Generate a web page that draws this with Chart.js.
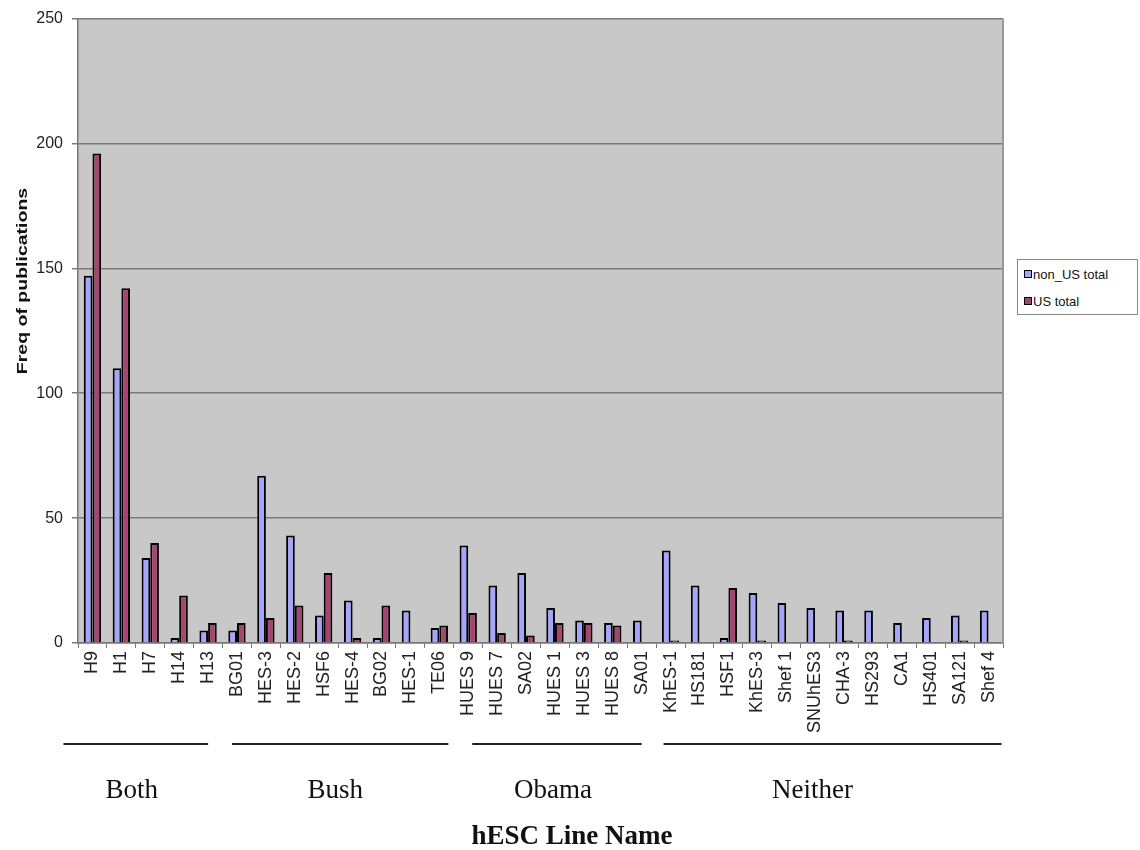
<!DOCTYPE html>
<html lang="en">
<head>
    <meta charset="UTF-8">
    <title>hESC line publications</title>
    <script src="https://cdn.jsdelivr.net/npm/chart.js"></script>
    <style>
        body { margin: 0; background: #fff; }
        #wrap { position: relative; width: 1140px; height: 850px; }
        #legend {
            position: absolute; left: 1017px; top: 259px; width: 121px; height: 56px;
            border: 1px solid #888; background: #fff; box-sizing: border-box;
            font-family: "Liberation Sans", Arial, sans-serif; font-size: 13px; color: #111;
        }
        .item { position: absolute; left: 6px; white-space: nowrap; }
        .sw { display: inline-block; width: 6px; height: 6px; border: 1px solid #000; margin-right: 1px; vertical-align: 1px; }
    </style>
</head>
<body>
    <div id="wrap">
        <canvas id="chart"></canvas>
        <div id="legend">
            <div class="item" style="top:7px"><span class="sw" style="background:#a5a5fd"></span>non_US total</div>
            <div class="item" style="top:34px"><span class="sw" style="background:#a6456f"></span>US total</div>
        </div>
    </div>

    <script>
        const lines = ['H9', 'H1', 'H7', 'H14', 'H13',
            'BG01', 'HES-3', 'HES-2', 'HSF6', 'HES-4', 'BG02', 'HES-1', 'TE06',
            'HUES 9', 'HUES 7', 'SA02', 'HUES 1', 'HUES 3', 'HUES 8', 'SA01',
            'KhES-1', 'HS181', 'HSF1', 'KhES-3', 'Shef 1', 'SNUhES3', 'CHA-3', 'HS293', 'CA1', 'HS401', 'SA121', 'Shef 4'];
        const nonUS = [147, 110, 34, 2, 5,
            5, 67, 43, 11, 17, 2, 13, 6,
            39, 23, 28, 14, 9, 8, 9,
            37, 23, 2, 20, 16, 14, 13, 13, 8, 10, 11, 13];
        const usTotal = [196, 142, 40, 19, 8,
            8, 10, 15, 28, 2, 15, 0, 7,
            12, 4, 3, 8, 8, 7, 0,
            1, 0, 22, 1, 0, 0, 1, 0, 0, 0, 1, 0];
        const groupNames = ['Both', 'Bush', 'Obama', 'Neither'];
        const groupFirst = ['H9', 'BG01', 'HUES 9', 'KhES-1'];
        const groupLast = ['H13', 'TE06', 'SA01', 'Shef 4'];
        const yTicks = [0, 50, 100, 150, 200, 250];

        // pixel tweaks for the group underlines / labels (start pad, end pad, label shift)
        const padL = [29, 5, -4, 7];
        const padR = [0, 9, 0, 13];
        const labelShift = [-4, -5, -4, -20];

        const decor = {
            id: 'decor',
            beforeDraw(chart) {
                const a = chart.chartArea, ctx = chart.ctx;
                ctx.save();
                ctx.fillStyle = '#c8c8c8';
                ctx.fillRect(a.left, a.top, a.right - a.left, a.bottom - a.top);
                ctx.restore();
            },
            afterDraw(chart) {
                const a = chart.chartArea, ctx = chart.ctx, x = chart.scales.x;
                ctx.save();
                ctx.strokeStyle = '#999';
                ctx.lineWidth = 2;
                ctx.beginPath();
                ctx.moveTo(a.right, a.top);
                ctx.lineTo(a.right, a.bottom);
                ctx.stroke();

                ctx.strokeStyle = '#222';
                ctx.lineWidth = 2;
                ctx.fillStyle = '#111';
                ctx.font = '27px "Liberation Serif", "Times New Roman", serif';
                ctx.textAlign = 'center';
                ctx.textBaseline = 'alphabetic';
                groupNames.forEach((g, i) => {
                    const x0 = x.getPixelForValue(lines.indexOf(groupFirst[i])) - padL[i];
                    const x1 = x.getPixelForValue(lines.indexOf(groupLast[i])) + padR[i];
                    ctx.beginPath();
                    ctx.moveTo(x0, 744);
                    ctx.lineTo(x1, 744);
                    ctx.stroke();
                    ctx.fillText(g, (x0 + x1) / 2 + labelShift[i], 798);
                });

                ctx.font = 'bold 27px "Liberation Serif", "Times New Roman", serif';
                ctx.fillText('hESC Line Name', 572, 844);

                ctx.translate(23, 281);
                ctx.rotate(-Math.PI / 2);
                ctx.scale(1.3, 1);
                ctx.textBaseline = 'middle';
                ctx.font = 'bold 15px "Liberation Sans", Arial, sans-serif';
                ctx.fillText('Freq of publications', 0, 0);
                ctx.restore();
            }
        };

        new Chart(document.getElementById('chart'), {
            type: 'bar',
            data: {
                labels: lines,
                datasets: [{
                    label: 'non_US total',
                    data: nonUS,
                    backgroundColor: '#a5a5fd',
                    borderColor: '#000',
                    borderWidth: 2,
                    borderSkipped: 'bottom'
                }, {
                    label: 'US total',
                    data: usTotal,
                    backgroundColor: '#a6456f',
                    borderColor: '#000',
                    borderWidth: 2,
                    borderSkipped: 'bottom'
                }]
            },
            options: {
                responsive: true,
                maintainAspectRatio: false,
                animation: false,
                layout: { padding: { top: 17, right: 137, left: 0, bottom: 0 } },
                plugins: { legend: { display: false }, tooltip: { enabled: false } },
                datasets: { bar: { categoryPercentage: 0.6, barPercentage: 1.0 } },
                scales: {
                    x: {
                        afterFit(s) { s.height = 207; },
                        grid: { display: true, drawOnChartArea: false, tickLength: 5, color: '#777', offset: true },
                        border: { color: '#777', width: 1.5 },
                        ticks: {
                            autoSkip: false, maxRotation: 90, minRotation: 90, padding: 3,
                            color: '#222',
                            font: { family: '"Liberation Sans", Arial, sans-serif', size: 18 }
                        }
                    },
                    y: {
                        min: 0, max: 250,
                        afterFit(s) { s.width = 78; },
                        afterBuildTicks(s) { s.ticks = yTicks.map(v => ({ value: v })); },
                        grid: { color: '#7a7a7a', lineWidth: 1.5, tickLength: 6 },
                        border: { color: '#777', width: 1.5 },
                        ticks: {
                            padding: 9, color: '#222',
                            font: { family: '"Liberation Sans", Arial, sans-serif', size: 16 }
                        }
                    }
                }
            },
            plugins: [decor]
        });
    </script>
</body>
</html>
